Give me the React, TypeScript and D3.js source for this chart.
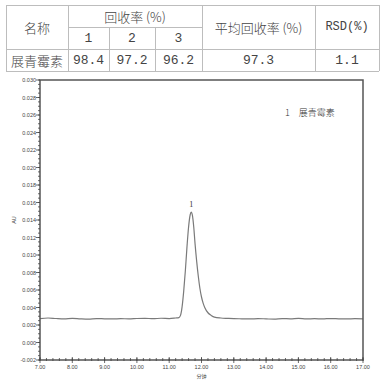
import React from "react";
import * as d3 from "d3";

// Table data
const headerName = "名称";
const headerRecovery = "回收率 (%)";
const replicateLabels = ["1", "2", "3"];
const headerMean = "平均回收率 (%)";
const headerRSD = "RSD(%)";
const compoundName = "展青霉素";
const recoveries = ["98.4", "97.2", "96.2"];
const meanRecovery = "97.3";
const rsdValue = "1.1";

// Chromatogram data (time in min, absorbance in AU)
const times = [
  7.0, 7.25, 7.5, 7.75, 8.0, 8.25, 8.5, 8.75, 9.0, 9.25, 9.5, 9.75, 10.0, 10.25, 10.5, 10.75,
  11.0, 11.2, 11.3, 11.35, 11.4, 11.45, 11.5, 11.55, 11.6, 11.65, 11.68, 11.72, 11.76, 11.8,
  11.85, 11.9, 11.95, 12.0, 12.05, 12.1, 12.2, 12.3, 12.4, 12.6, 12.8, 13.0, 13.25, 13.5,
  13.75, 14.0, 14.25, 14.5, 14.75, 15.0, 15.25, 15.5, 15.75, 16.0, 16.25, 16.5, 16.75, 17.0,
];
const absorbance = [
  0.00272, 0.00280, 0.00274, 0.00270, 0.00276, 0.00271, 0.00268, 0.00274, 0.00271, 0.00269,
  0.00273, 0.00270, 0.00274, 0.00276, 0.00272, 0.00277, 0.00274, 0.00280, 0.00284, 0.0031,
  0.0041, 0.0059, 0.0082, 0.0109, 0.0132, 0.0146, 0.0149, 0.0145, 0.0132, 0.0113, 0.0093,
  0.0076, 0.0062, 0.0052, 0.0045, 0.0040, 0.0034, 0.0031, 0.0029, 0.00280, 0.00276, 0.00273,
  0.00271, 0.00269, 0.00273, 0.00270, 0.00267, 0.00274, 0.00271, 0.00276, 0.00269, 0.00272,
  0.00270, 0.00274, 0.00271, 0.00269, 0.00273, 0.00271,
];
const yTicks = [-0.002, 0.0, 0.002, 0.004, 0.006, 0.008, 0.01, 0.012, 0.014, 0.016, 0.018, 0.02, 0.022, 0.024, 0.026, 0.028, 0.03];
const xTicks = [7, 8, 9, 10, 11, 12, 13, 14, 15, 16, 17];
const peakLabel = "1";
const peakTime = 11.68;
const peakValue = 0.0149;
const legendText = "1　展青霉素";
const xAxisTitle = "分钟";
const yAxisTitle = "AU";

export default function App() {
  const left = 40, right = 363, top = 80, bottom = 360;
  const x = d3.scaleLinear().domain([7, 17]).range([left, right]);
  const y = d3.scaleLinear().domain([-0.002, 0.03]).range([bottom, top]);
  const pts = times.map((t, i) => [t, absorbance[i]] as [number, number]);
  const line = d3.line<[number, number]>().x((d) => x(d[0])).y((d) => y(d[1])).curve(d3.curveMonotoneX);
  const yMinor = d3.range(-0.002, 0.03001, 0.0005);
  const xMinor = d3.range(7, 17.001, 0.2);

  // table geometry
  const colX = [6, 68, 109, 155, 202, 315, 379];
  const rowY = [5, 27, 49, 71];
  const lineColor = "#bdbdbd";
  const cjk = "'Noto Sans CJK SC', sans-serif";
  const num = "'Liberation Mono', monospace";
  const txt = "#444";
  const cx = (a: number, b: number) => (colX[a] + colX[b]) / 2;
  const cy = (a: number, b: number) => (rowY[a] + rowY[b]) / 2;
  const tickFont = "Arial, 'Liberation Sans', sans-serif";

  return (
    <svg width={385} height={381} style={{ position: "fixed", left: 0, top: 0, background: "#fff" }}>
      <rect width={385} height={381} fill="#fff" />
      {/* Table */}
      <g stroke={lineColor} strokeWidth={1} shapeRendering="crispEdges">
        <line x1={colX[0]} x2={colX[6]} y1={rowY[0]} y2={rowY[0]} />
        <line x1={colX[1]} x2={colX[4]} y1={rowY[1]} y2={rowY[1]} />
        <line x1={colX[0]} x2={colX[6]} y1={rowY[2]} y2={rowY[2]} />
        <line x1={colX[0]} x2={colX[6]} y1={rowY[3]} y2={rowY[3]} />
        <line x1={colX[0]} x2={colX[0]} y1={rowY[0]} y2={rowY[3]} />
        <line x1={colX[1]} x2={colX[1]} y1={rowY[0]} y2={rowY[3]} />
        <line x1={colX[2]} x2={colX[2]} y1={rowY[1]} y2={rowY[3]} />
        <line x1={colX[3]} x2={colX[3]} y1={rowY[1]} y2={rowY[3]} />
        <line x1={colX[4]} x2={colX[4]} y1={rowY[0]} y2={rowY[3]} />
        <line x1={colX[5]} x2={colX[5]} y1={rowY[0]} y2={rowY[3]} />
        <line x1={colX[6]} x2={colX[6]} y1={rowY[0]} y2={rowY[3]} />
      </g>
      <g fill={txt} textAnchor="middle" dominantBaseline="central" fontSize={13}>
        <text x={cx(0, 1)} y={cy(0, 2)} fontFamily={cjk} fontWeight={300}>{headerName}</text>
        <text x={cx(1, 4)} y={cy(0, 1)} fontFamily={cjk} fontWeight={300}>{headerRecovery}</text>
        {replicateLabels.map((l, i) => (
          <text key={l} x={cx(1 + i, 2 + i)} y={cy(1, 2)} fontFamily={num}>{l}</text>
        ))}
        <text x={cx(4, 5)} y={cy(0, 2)} fontFamily={cjk} fontWeight={300}>{headerMean}</text>
        <text x={cx(5, 6)} y={cy(0, 2)} fontFamily={num} fontSize={12}>{headerRSD}</text>
        <text x={cx(0, 1)} y={cy(2, 3)} fontFamily={cjk} fontWeight={300}>{compoundName}</text>
        {recoveries.map((v, i) => (
          <text key={i} x={cx(1 + i, 2 + i)} y={cy(2, 3)} fontFamily={num}>{v}</text>
        ))}
        <text x={cx(4, 5)} y={cy(2, 3)} fontFamily={num}>{meanRecovery}</text>
        <text x={cx(5, 6)} y={cy(2, 3)} fontFamily={num}>{rsdValue}</text>
      </g>

      {/* Chromatogram */}
      <path d={line(pts) || ""} fill="none" stroke="#7a7a7a" strokeWidth={1.2} />
      <rect x={left} y={top} width={right - left} height={bottom - top} fill="none" stroke="#555" strokeWidth={1.5} />
      <g stroke="#444" strokeWidth={0.8}>
        {yMinor.map((v, i) => (
          <line key={"ym" + i} x1={left - 2} x2={left} y1={y(v)} y2={y(v)} />
        ))}
        {yTicks.map((v) => (
          <line key={"yM" + v} x1={left - 4} x2={left} y1={y(v)} y2={y(v)} />
        ))}
        {xMinor.map((v, i) => (
          <line key={"xm" + i} x1={x(v)} x2={x(v)} y1={bottom - 2} y2={bottom + 1} />
        ))}
        {xTicks.map((v) => (
          <line key={"xM" + v} x1={x(v)} x2={x(v)} y1={bottom - 3} y2={bottom + 3} />
        ))}
      </g>
      <g fill="#444" fontSize={5.5} fontFamily={tickFont}>
        {yTicks.map((v) => (
          <text key={v} x={left - 4} y={y(v)} textAnchor="end" dominantBaseline="central">
            {d3.format(".3f")(v).replace("−", "-")}
          </text>
        ))}
        {xTicks.map((v) => (
          <text key={v} x={x(v)} y={bottom + 9} textAnchor="middle">
            {d3.format(".2f")(v)}
          </text>
        ))}
        <text x={(left + right) / 2} y={378} textAnchor="middle" fontFamily={cjk} fontSize={5}>{xAxisTitle}</text>
        <text transform={`translate(14, ${y(0.014)}) rotate(-90)`} textAnchor="middle" dominantBaseline="central">{yAxisTitle}</text>
      </g>
      <text x={x(peakTime)} y={y(peakValue) - 5} textAnchor="middle" fontSize={8} fontFamily="'Liberation Serif', serif" fill="#333">{peakLabel}</text>
      <text x={285} y={116} fontSize={9} fontFamily={cjk} fontWeight={300} fill="#333">{legendText}</text>
    </svg>
  );
}
